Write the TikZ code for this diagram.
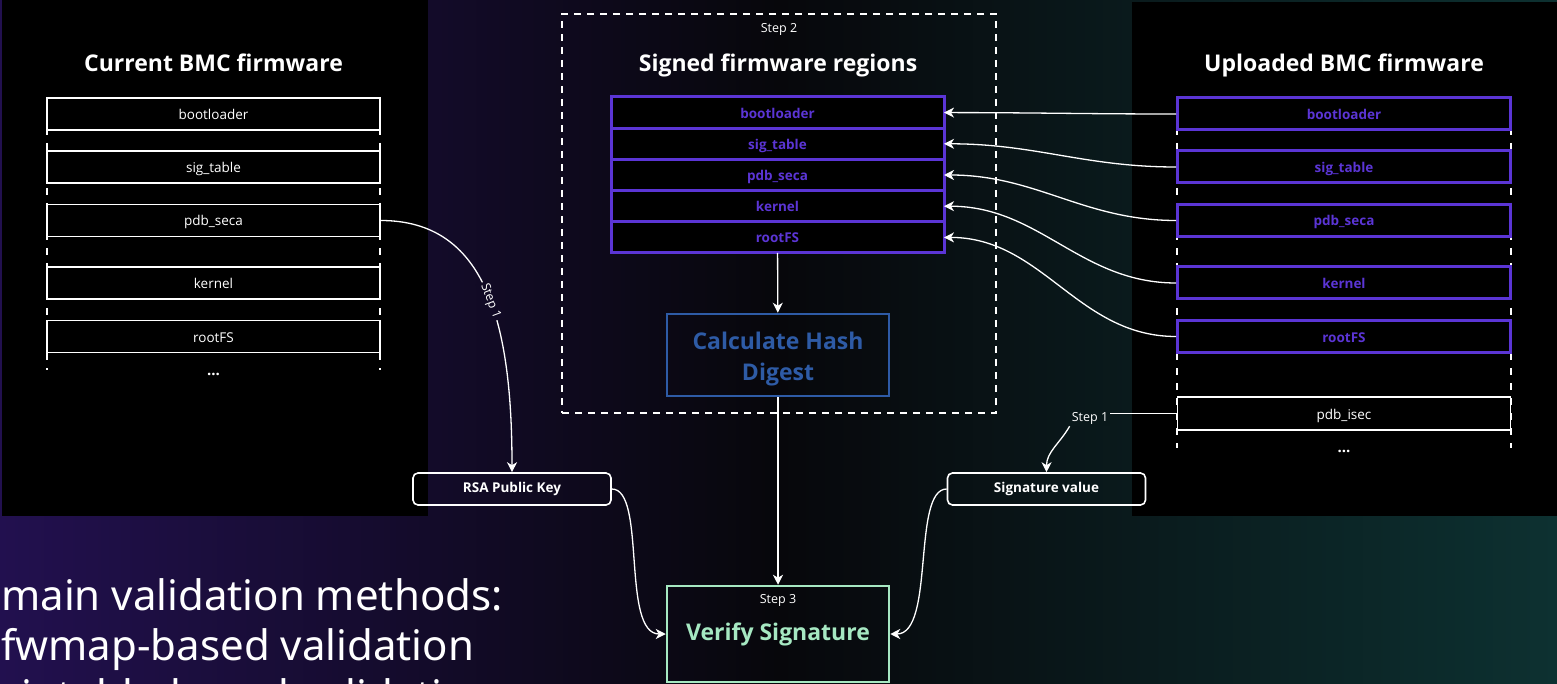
\documentclass[tikz,border=0pt]{standalone}
\usepackage{fontspec}
\setmainfont{Open Sans}
\newfontfamily\bulletfont{Noto Sans}
\usetikzlibrary{positioning, arrows.meta}

\definecolor{bgpurple}{HTML}{22104F}
\definecolor{bgdark}{HTML}{07070B}
\definecolor{bgteal}{HTML}{0D3131}
\definecolor{regpurple}{HTML}{5B35D5}
\definecolor{hashblue}{HTML}{2E5BA6}
\definecolor{verifygreen}{HTML}{A6E8C2}
\colorlet{stepbgL}{bgpurple!38!bgdark}
\colorlet{stepbgR}{bgteal!40!bgdark}

\begin{document}
\begin{tikzpicture}[x=1pt, y=-1pt,
    region/.style = {shape=rectangle, draw=white, line width=1.6pt, fill=black,
    text=white, minimum width=333pt, minimum height=32pt, inner sep=0pt,
    font=\fontsize{13.5}{16}\selectfont, text height=13pt, text depth=2pt},
    signed/.style = {region, draw=regpurple, line width=3pt, text=regpurple,
    font=\fontsize{13.5}{16}\selectfont\bfseries},
    stack/.style = {signed, minimum height=31.2pt, outer sep=0pt},
    title/.style = {anchor=base, text=white, font=\fontsize{23}{27}\selectfont\bfseries},
    keybox/.style = {shape=rectangle, rounded corners=5pt, draw=white, line width=1.6pt,
    text=white, minimum width=198pt, minimum height=32pt,
    font=\fontsize{13.5}{15}\selectfont\bfseries},
    steplabel/.style = {text=white, font=\fontsize{12.5}{14}\selectfont, inner sep=2pt},
    bullet/.style = {anchor=base west, inner sep=0pt, text=white,
    font=\bulletfont\fontsize{42}{50}\selectfont},
    sides/.style = {draw=white, line width=1.6pt, dash pattern=on 7pt off 8pt},
    line/.style = {draw=white, line width=1.3pt, -{Stealth[length=10pt, width=10pt, inset=3pt]}}]

  \useasboundingbox (0,0) rectangle (1557,684);
  \shade[left color=bgpurple, right color=bgdark] (0,0) rectangle (779,684);
  \shade[left color=bgdark, right color=bgteal] (778,0) rectangle (1557,684);

  % black panels behind the two firmware images
  \fill[black] (2,0) rectangle (428,516);
  \fill[black] (1132,2) rectangle (1557,516);

  \node[bullet] (meth1) at (1,610) {main validation methods:};
  \node[bullet] (meth2) at (1,660) {fwmap-based validation};
  \node[bullet] (meth3) at (1,710) {sigtable-based validation};

  % current firmware
  \node[title] (curtitle) at (213.5,72) {Current BMC firmware};
  \draw[sides] (47,98) -- (47,370);
  \draw[sides] (380,98) -- (380,370);
  \node[region] (cbl) at (213.5,114) {bootloader};
  \node[region] (cst) at (213.5,167) {sig\_table};
  \node[region] (cps) at (213.5,220.5) {pdb\_seca};
  \node[region] (ckn) at (213.5,283) {kernel};
  \node[region] (crf) at (213.5,336.5) {rootFS};
  \node[anchor=base, text=white, font=\fontsize{15}{16}\selectfont\bfseries] (cdots) at (213.5,375) {...};

  % signed regions
  \node[draw=white, line width=1.5pt, dash pattern=on 7pt off 6pt,
    minimum width=434pt, minimum height=399pt] (grp) at (779,213.5) {};
  \node[steplabel] (step2) at (779,29) {Step 2};
  \node[title] (sigtitle) at (778,72) {Signed firmware regions};
  \node[stack] (sbl) at (777.5,112.6) {bootloader};
  \node[stack, below=0pt of sbl] (sst) {sig\_table};
  \node[stack, below=0pt of sst] (sps) {pdb\_seca};
  \node[stack, below=0pt of sps] (skn) {kernel};
  \node[stack, below=0pt of skn] (srf) {rootFS};

  \node[draw=hashblue, line width=2.5pt, text=hashblue, align=center,
    minimum width=222pt, minimum height=82pt,
    font=\fontsize{23}{31}\selectfont\bfseries] (hash) at (778,355)
    {\rule{0pt}{25pt}Calculate Hash\\Digest};

  \node[draw=verifygreen, line width=2.5pt, text=verifygreen,
    minimum width=222pt, minimum height=96pt,
    font=\fontsize{23}{27}\selectfont\bfseries] (verify) at (778,634) {Verify Signature};
  \node[steplabel] (step3) at (778,600) {Step 3};

  \node[keybox] (rsa) at (512,489) {RSA Public Key};
  \node[keybox] (sigval) at (1046.5,489) {Signature value};

  % uploaded firmware
  \node[title] (uptitle) at (1344,72) {Uploaded BMC firmware};
  \draw[sides] (1177,98) -- (1177,448);
  \draw[sides] (1511,98) -- (1511,448);
  \node[signed] (ubl) at (1344,114) {bootloader};
  \node[signed] (ust) at (1344,167) {sig\_table};
  \node[signed] (ups) at (1344,220.5) {pdb\_seca};
  \node[signed] (ukn) at (1344,283) {kernel};
  \node[signed] (urf) at (1344,336.5) {rootFS};
  \node[region, minimum height=33pt] (uis) at (1344,413.5) {pdb\_isec};
  \node[anchor=base, text=white, font=\fontsize{15}{16}\selectfont\bfseries] (udots) at (1344,452) {...};

  % connectors
  \draw[line] (ubl.west) to[out=180, in=0] (sbl.east);
  \draw[line] (ust.west) to[out=180, in=0] (sst.east);
  \draw[line] (ups.west) to[out=180, in=0] (sps.east);
  \draw[line] (ukn.west) to[out=180, in=0] (skn.east);
  \draw[line] (urf.west) to[out=180, in=0] (srf.east);

  \draw[line] (srf) -- (hash);
  \draw[line] (hash) -- (verify);

  \draw[line] (cps.east) .. controls +(105,0) and +(0,-150) ..
    node[steplabel, sloped, pos=0.54, fill=stepbgL] {Step 1} (rsa.north);

  \node[steplabel, fill=stepbgR] (step1r) at (1090,418) {Step 1};
  \draw[draw=white, line width=1.3pt] (uis.west) -- (uis.west -| step1r.east);
  \draw[line] (step1r.south west) to[out=240, in=90] (sigval.north);

  \draw[line] (rsa.east) .. controls +(35,0) and +(-45,0) .. (verify.west);
  \draw[line] (sigval.west) .. controls +(-35,0) and +(45,0) .. (verify.east);

\end{tikzpicture}
\end{document}
